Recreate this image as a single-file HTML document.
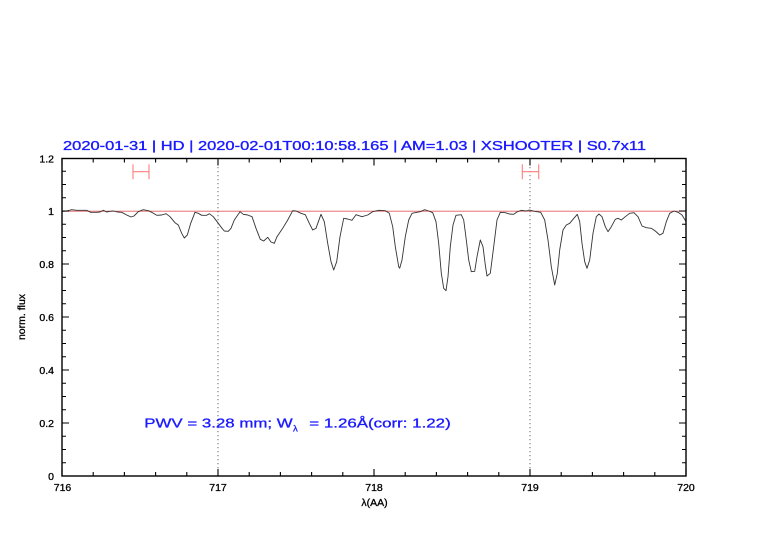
<!DOCTYPE html>
<html><head><meta charset="utf-8"><style>
html,body{margin:0;padding:0;background:#fff;}
svg{display:block;}
text{font-family:"Liberation Sans",sans-serif;}
</style></head><body>
<svg width="782" height="542" viewBox="0 0 782 542" xmlns="http://www.w3.org/2000/svg">
<rect width="782" height="542" fill="#fff"/>
<!-- title -->
<text x="63" y="150" font-size="13" fill="#1a1aff" stroke="#1a1aff" stroke-width="0.35" textLength="583" lengthAdjust="spacingAndGlyphs">2020-01-31 | HD | 2020-02-01T00:10:58.165 | AM=1.03 | XSHOOTER | S0.7x11</text>
<!-- reference line -->
<line x1="62" y1="211.2" x2="686" y2="211.2" stroke="#e85a5a" stroke-width="0.9"/>
<!-- dotted verticals -->
<line x1="218" y1="159" x2="218" y2="476" stroke="#444" stroke-width="0.8" stroke-dasharray="1.2,2.8"/>
<line x1="530" y1="159" x2="530" y2="476" stroke="#444" stroke-width="0.8" stroke-dasharray="1.2,2.8"/>
<!-- error bars -->
<g stroke="#ff7f7f" stroke-width="1.1" fill="none">
<path d="M133 164.3V179.3M149 164.3V179.3M133 171.7H149"/>
<path d="M522.3 164.3V179.3M538.7 164.3V179.3M522.3 171.7H538.7"/>
</g>
<!-- spectrum -->
<polyline fill="none" stroke="#333" stroke-width="0.9" stroke-linejoin="round" points="
62.7,211.3 66.7,211 71.7,209.7 76.7,210.3 86.7,210.3 90.7,212.3 96.7,212.3 100,212 103.3,210.3 106.7,212 110,211.3 113.3,211 117.3,212 121.7,212.3 126.7,215 131,217 134,216 138.3,211.7 143.3,209.7 148.3,210.7 151.7,212.3 156.7,215.3 161.7,215 166,213.7 170,216.7 175,222.7 178.3,225 181.7,233.3 184.3,238 187.3,235 190.7,223.3 195,212.3 198.3,213.3 201.7,215.3 206.7,215.3 209.3,213.7 213.3,216.7 218.3,223.3 222,228.3
224.3,231 228.3,231.3 231,228.3 234.3,220 240,211.7 243.3,214.3 247.7,215 252,216.7 256,228.3 260.3,239.3 263.7,241 267.7,237.3 271,242 274.3,243.3 277,236.7 282.7,228.3 287.7,220 292.7,210.7 296,211 301,213.3 305.3,214.7 309.3,223.3 312.7,230 316,228.3 321,214.3 324.3,221.7 327.7,243.3 331,261.7 333.7,270 336.7,261.7 340,236.7 343.7,218.3 347.7,219 352,220.3 356,214.7 362,216.7 367.7,215 372.7,211.7 378.7,210.3
385.3,210.7 389.3,213.3 392.7,226.7 395.3,246.7 398.7,266.7 399.7,268.3 402,260 405.3,236.7 408.7,220 412,213.3 417,212.3 420.3,211.7 424.7,209.7 428.7,211 432.7,212.7 436,221.7 438.7,243.3 441.3,273.3 443.7,288.3 446,290.7 448,276.7 450.3,246.7 453,225 456,215.3 461.3,214.7 463.7,220 466.3,240 468.7,260 471.3,271.7 474.7,271.3 477,256.7 480.3,240 483,246.7 485.3,265 487,276 490.3,273.3 493.7,246.7 497,220 500.3,212.3 505.3,212.7 509.3,214 513.7,214.3 517,212 521.3,210.3 526,211 529.3,210
534.7,211.3 540.7,212.3 544.7,220 548,240 551.3,266.7 554.7,285 557.3,273.3 559.7,250 563,230 566.3,225 569.7,223.3 573,219.3 577.3,214.3 579.7,221.7 582,243.3 584.7,261.7 587,268.3 589.7,260 593,233.3 596.3,216.7 599,214 602,216.7 605.3,226.7 608,231.7 611.3,226.7 615.3,219.3 618,218.3 621.3,220 625.3,216.7 629.7,213.3 634,212.7 638,216.7 642,226 646.3,227.7 651.3,228.3 655.3,231 659.7,235 663,233.3 666.3,221.7 669.7,213.3 674,211 678,212.3 682,215 686,221.5"/>
<!-- axes box -->
<rect x="62" y="158.5" width="624" height="317.5" fill="none" stroke="#000" stroke-width="1.4"/>
<!-- ticks -->
<g stroke="#000" stroke-width="1.1" fill="none">
<path d="M62 476v-7M93.2 476v-4M124.4 476v-4M155.6 476v-4M186.8 476v-4M218 476v-7M249.2 476v-4M280.4 476v-4M311.6 476v-4M342.8 476v-4M374 476v-7M405.2 476v-4M436.4 476v-4M467.6 476v-4M498.8 476v-4M530 476v-7M561.2 476v-4M592.4 476v-4M623.6 476v-4M654.8 476v-4M686 476v-7"/>
<path d="M62 158.5v7M93.2 158.5v4M124.4 158.5v4M155.6 158.5v4M186.8 158.5v4M218 158.5v7M249.2 158.5v4M280.4 158.5v4M311.6 158.5v4M342.8 158.5v4M374 158.5v7M405.2 158.5v4M436.4 158.5v4M467.6 158.5v4M498.8 158.5v4M530 158.5v7M561.2 158.5v4M592.4 158.5v4M623.6 158.5v4M654.8 158.5v4M686 158.5v7"/>
<path d="M62 476h7M62 462.75h4M62 449.5h4M62 436.25h4M62 423h7M62 409.75h4M62 396.5h4M62 383.25h4M62 370h7M62 356.75h4M62 343.5h4M62 330.25h4M62 317h7M62 303.75h4M62 290.5h4M62 277.25h4M62 264h7M62 250.75h4M62 237.5h4M62 224.25h4M62 211h7M62 197.75h4M62 184.5h4M62 171.25h4M62 158.5h7"/>
<path d="M686 476h-7M686 462.75h-4M686 449.5h-4M686 436.25h-4M686 423h-7M686 409.75h-4M686 396.5h-4M686 383.25h-4M686 370h-7M686 356.75h-4M686 343.5h-4M686 330.25h-4M686 317h-7M686 303.75h-4M686 290.5h-4M686 277.25h-4M686 264h-7M686 250.75h-4M686 237.5h-4M686 224.25h-4M686 211h-7M686 197.75h-4M686 184.5h-4M686 171.25h-4M686 158.5h-7"/>
</g>
<!-- y labels -->
<g font-size="10.5" fill="#000" stroke="#000" stroke-width="0.3" text-anchor="end">
<text x="54" y="480">0</text>
<text x="54" y="427">0.2</text>
<text x="54" y="374">0.4</text>
<text x="54" y="321">0.6</text>
<text x="54" y="268">0.8</text>
<text x="54" y="215">1</text>
<text x="54" y="162.5">1.2</text>
</g>
<!-- x labels -->
<g font-size="10.5" fill="#000" stroke="#000" stroke-width="0.3" text-anchor="middle">
<text x="62.5" y="491">716</text>
<text x="218" y="491">717</text>
<text x="374" y="491">718</text>
<text x="530" y="491">719</text>
<text x="686" y="491">720</text>
<text x="374.5" y="506">λ(AA)</text>
<text transform="translate(25,317) rotate(-90)">norm. flux</text>
</g>
<!-- annotation -->
<g font-size="13" fill="#1a1aff" stroke="#1a1aff" stroke-width="0.3">
<text x="144.3" y="427.7" textLength="148.4" lengthAdjust="spacingAndGlyphs">PWV = 3.28 mm; W</text>
<text x="293" y="431.7" font-size="9.5">λ</text>
<text x="309.3" y="427.7" textLength="141.4" lengthAdjust="spacingAndGlyphs">= 1.26Å(corr: 1.22)</text>
</g>
</svg>
</body></html>
